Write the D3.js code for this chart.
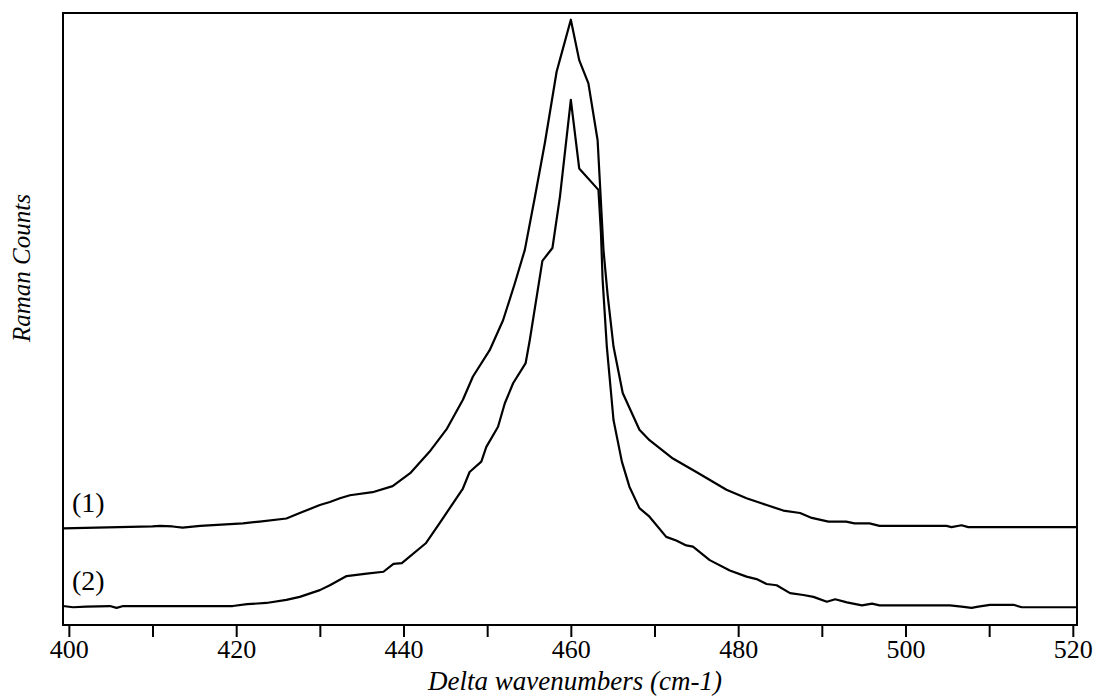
<!DOCTYPE html>
<html>
<head>
<meta charset="utf-8">
<script src="https://cdn.jsdelivr.net/npm/d3@7"></script>
<style>
  body { margin: 0; background: #fff; }
  svg { display: block; }
  .axis text { font-family: "Liberation Serif", "Times New Roman", serif; font-size: 26px; fill: #000; }
  .axis line { stroke: #000; stroke-width: 2px; }
  .axis path { display: none; }
</style>
</head>
<body>
<svg id="chart" width="1102" height="698"></svg>
<script>
// spectrum (1), upper trace
var shift1 = [399.3, 410.0, 410.9, 412.4, 413.6, 415.7, 420.8, 422.8, 426.0, 427.6, 430.0, 431.2, 432.4,
  433.6, 436.3, 438.7, 440.8, 443.1, 445.2, 447.1, 448.3, 450.3, 451.9, 453.3, 454.5, 455.7, 456.9,
  458.3, 458.9, 460.0, 461.0, 462.1, 463.2, 463.5, 463.9, 464.4, 465.1, 466.2, 468.2, 469.4, 472.2,
  475.0, 478.6, 481.0, 483.4, 485.4, 487.4, 488.8, 490.8, 492.9, 493.9, 495.7, 496.9, 504.9, 505.5,
  506.7, 507.5, 520.5];
var counts1 = [158, 161, 162, 161, 159, 162, 166, 169, 174, 183, 196, 201, 207,
  212, 217, 227, 248, 283, 321, 368, 406, 449, 498, 558, 613, 699, 788,
  904, 934, 989, 923, 885, 792, 716, 613, 539, 455, 379, 319, 302, 272,
  250, 221, 207, 196, 187, 183, 175, 169, 169, 166, 166, 162, 162, 160,
  163, 160, 160];

// spectrum (2), lower trace
var shift2 = [399.3, 400.5, 402.1, 404.9, 405.7, 406.5, 419.6, 421.3, 423.6, 426.0, 427.6, 430.0, 431.2,
  433.2, 435.6, 437.6, 438.8, 439.8, 442.7, 444.3, 447.1, 447.9, 449.3, 449.9, 451.3, 452.1, 453.1,
  454.6, 455.1, 456.6, 457.8, 458.7, 460.0, 461.0, 463.3, 463.6, 463.8, 464.3, 465.1, 466.1, 467.0,
  468.2, 469.4, 471.4, 472.6, 473.8, 474.6, 476.6, 479.0, 481.0, 482.2, 483.4, 484.6, 486.2, 487.8,
  489.0, 490.6, 491.6, 493.0, 494.8, 496.0, 496.9, 505.3, 506.7, 507.9, 508.7, 510.1, 512.9, 513.9,
  520.5];
var counts2 = [31, 29, 30, 31, 28, 31, 31, 34, 36, 41, 46, 57, 65,
  80, 84, 87, 100, 101, 134, 166, 223, 250, 267, 291, 324, 362, 395,
  428, 466, 595, 616, 700, 858, 746, 711, 641, 564, 455, 335, 267, 226,
  191, 177, 144, 138, 130, 128, 106, 89, 79, 75, 67, 65, 52, 49,
  46, 38, 42, 37, 32, 35, 32, 32, 30, 28, 30, 33, 33, 29,
  29];

var tickValues = d3.range(400, 521, 10);
var traceLabels = ["(1)", "(2)"];

var svg = d3.select("#chart"),
    margin = {top: 13, right: 25, bottom: 73, left: 63},
    width = +svg.attr("width") - margin.left - margin.right,
    height = +svg.attr("height") - margin.top - margin.bottom,
    g = svg.append("g").attr("transform", "translate(" + margin.left + "," + margin.top + ")");

var x = d3.scaleLinear()
    .domain([399.3, 520.5])
    .range([0, width]);

var y = d3.scaleLinear()
    .domain([0, 1000])
    .range([height, 0]);

var line = d3.line()
    .x(function(d) { return x(d[0]); })
    .y(function(d) { return y(d[1]); });

var series = [d3.zip(shift1, counts1), d3.zip(shift2, counts2)];

g.selectAll(".trace")
  .data(series)
  .enter().append("path")
    .attr("class", "trace")
    .attr("fill", "none")
    .attr("stroke", "#000")
    .attr("stroke-width", 2.2)
    .attr("stroke-linejoin", "round")
    .attr("d", line);

// frame
g.append("rect")
    .attr("width", width)
    .attr("height", height)
    .attr("fill", "none")
    .attr("stroke", "#000")
    .attr("stroke-width", 2);

g.append("g")
    .attr("class", "axis")
    .attr("transform", "translate(0," + height + ")")
    .call(d3.axisBottom(x)
      .tickValues(tickValues)
      .tickSize(12)
      .tickPadding(3)
      .tickFormat(function(d) { return d % 20 === 0 ? d : ""; }));

// trace labels, placed just above each baseline
g.selectAll(".lbl")
  .data(traceLabels)
  .enter().append("text")
    .attr("class", "lbl")
    .attr("x", 9)
    .attr("y", function(d, i) { return y(i === 0 ? counts1[0] : counts2[0]) - 16; })
    .attr("font-family", "Liberation Serif, serif")
    .attr("font-size", 28)
    .text(function(d) { return d; });

svg.append("text")
    .attr("x", margin.left + x(460.5))
    .attr("y", 690)
    .attr("text-anchor", "middle")
    .attr("font-family", "Liberation Serif, serif")
    .attr("font-style", "italic")
    .attr("font-size", 27)
    .text("Delta wavenumbers (cm-1)");

svg.append("text")
    .attr("transform", "translate(30,268) rotate(-90)")
    .attr("text-anchor", "middle")
    .attr("font-family", "Liberation Serif, serif")
    .attr("font-style", "italic")
    .attr("font-size", 25)
    .text("Raman Counts");
</script>
</body>
</html>
